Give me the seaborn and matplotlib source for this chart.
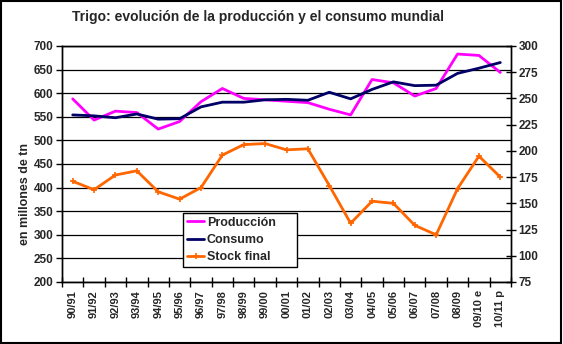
import matplotlib
matplotlib.use("Agg")
import matplotlib.pyplot as plt
import seaborn as sns
import numpy as np
from matplotlib.patches import Rectangle
from matplotlib.lines import Line2D

campaigns = ["90/91", "91/92", "92/93", "93/94", "94/95", "95/96", "96/97", "97/98",
             "98/99", "99/00", "00/01", "01/02", "02/03", "03/04", "04/05", "05/06",
             "06/07", "07/08", "08/09", "09/10 e", "10/11 p"]
produccion = [588, 543, 562, 559, 524, 540, 582, 610, 589, 586, 583, 580, 566, 554,
              629, 622, 594, 610, 683, 680, 644]
consumo = [554, 552, 548, 556, 545, 546, 571, 581, 581, 586, 587, 585, 602, 588,
           608, 624, 616, 617, 642, 653, 665]
stock_final = [171, 163, 177, 181, 161, 154, 165, 196, 206, 207, 201, 202, 167, 131,
               152, 150, 129, 120, 164, 195, 175]

sns.set_theme(style="white")
plt.rcParams['font.family'] = ['Liberation Sans', 'DejaVu Sans']
plt.rcParams['font.weight'] = 'bold'

W, H = 563, 344
fig = plt.figure(figsize=(W / 100, H / 100), dpi=100)
ax = fig.add_axes([62 / W, 1 - 282 / H, (511 - 62) / W, (282 - 46) / H])
ax2 = ax.twinx()

x = np.arange(len(campaigns))
sns.lineplot(x=x, y=produccion, ax=ax, color="#FF00FF", lw=2, label="Producción", legend=False)
sns.lineplot(x=x, y=consumo, ax=ax, color="#000066", lw=2, label="Consumo", legend=False)
sns.lineplot(x=x, y=stock_final, ax=ax2, color="#FF6600", lw=2, marker="+", markersize=4,
             markeredgewidth=1.2, markeredgecolor="#FF6600", label="Stock final", legend=False)

ax.set_xlim(-0.5, len(campaigns) - 0.5)
ax.set_ylim(200, 700)
ax2.set_ylim(75, 300)
ax.set_yticks(np.arange(200, 701, 50))
ax2.set_yticks(np.arange(75, 301, 25))
ax.yaxis.grid(True, color="black", lw=0.9)
ax.set_axisbelow(True)

ax.set_xticks(x)
ax.set_xticklabels(campaigns, rotation=90, fontsize=8, fontweight="bold")
ax.set_xticks(np.arange(-0.5, len(campaigns), 1), minor=True)
ax.tick_params(axis="x", which="major", length=0, pad=6)
ax.tick_params(axis="x", which="minor", direction="inout", length=7, width=1, color="black", bottom=True)
ax.tick_params(axis="y", which="major", direction="out", length=4, width=1, color="black",
               left=True, labelsize=8.5, pad=2)
ax2.tick_params(axis="y", which="major", direction="inout", length=7, width=1, color="black",
                right=True, labelsize=8.5, pad=2)
for lab in ax.get_yticklabels() + ax2.get_yticklabels():
    lab.set_fontweight("bold")

for a in (ax, ax2):
    for s in a.spines.values():
        s.set_color("black")
        s.set_linewidth(1)
ax.set_xlabel("")
ax.set_ylabel("")
ax2.set_ylabel("")

fig.text(25 / W, 1 - 194 / H, "en millones de tn", rotation=90, ha="center", va="center",
         fontsize=9, fontweight="bold")
fig.text(258 / W, 1 - 17 / H, "Trigo: evolución de la producción y el consumo mundial",
         ha="center", va="center", fontsize=10, fontweight="bold")

handles = [Line2D([], [], color="#FF00FF", lw=2),
           Line2D([], [], color="#000066", lw=2),
           Line2D([], [], color="#FF6600", lw=2, marker="+", markersize=4, markeredgewidth=1.2)]
leg = fig.legend(handles, ["Producción", "Consumo", "Stock final"],
                 loc="upper left", bbox_to_anchor=(183 / W, 1 - 266 / H, 114 / W, 53 / H),
                 mode="expand",
                 frameon=True, fancybox=False, framealpha=1, edgecolor="black",
                 prop={"weight": "bold", "size": 9}, handlelength=1.4, handletextpad=0.2,
                 borderpad=0.3, labelspacing=0.42, borderaxespad=0)
leg.get_frame().set_linewidth(1)

fig.patches.append(Rectangle((0.002, 0.003), 0.994, 0.994, transform=fig.transFigure,
                             fill=False, edgecolor="black", lw=1.5))

fig.savefig("out.png", dpi=100)
